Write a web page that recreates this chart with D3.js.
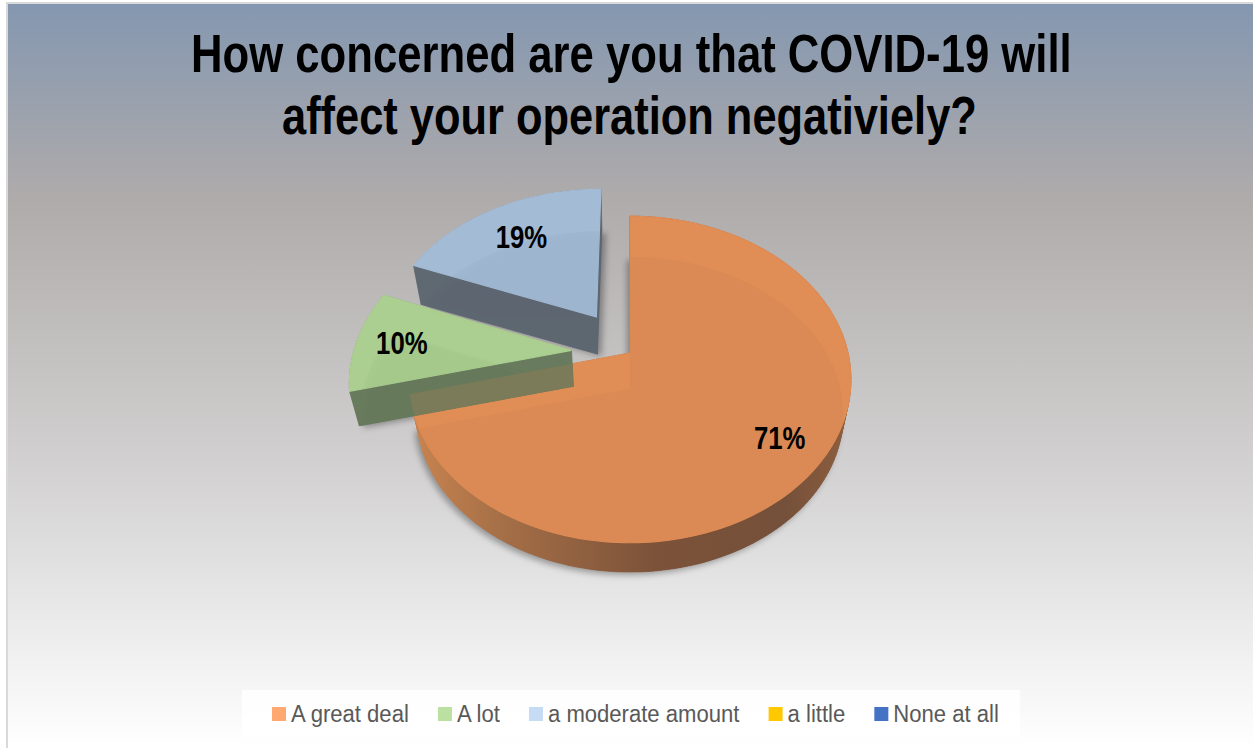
<!DOCTYPE html>
<html><head><meta charset="utf-8">
<script src="https://d3js.org/d3.v7.min.js"></script>
<style>html,body{margin:0;padding:0;background:#fff;overflow:hidden}svg{display:block}text{font-family:"Liberation Sans",Arial,sans-serif}</style>
</head><body><svg id="c" width="1253" height="748"></svg>
<script>
const titleLines = ["How concerned are you that COVID-19 will", "affect your operation negativiely?"];
const categories = ["A great deal", "A lot", "a moderate amount", "a little", "None at all"];
const shares = [71, 10, 19, 0, 0];
const legendColors = ["#FFA971", "#BCE0A2", "#C5DCF4", "#FFC800", "#4472C4"];
const topColors = ["#E08D56", "#ABD08F", "#A4BCD8", "#FFC000", "#4472C4"];
const wallColors = ["url(#wallO)", "#66795A", "#5C6670", "#A08000", "#2F4F88"];
const explode = [0, 0.27, 0.285, 0.27, 0.27];
const labelRadius = [0.8, 0.79, 0.72, 0.77, 0.77];

const svg = d3.select("#c");
const defs = svg.append("defs");

const bg = defs.append("linearGradient").attr("id", "bg").attr("x1", 0).attr("x2", 0).attr("y1", 0).attr("y2", 1);
[[0, "#8497B0"], [0.26, "#AFABAB"], [0.6, "#D0CECE"], [0.85, "#EDEDED"], [1, "#FFFFFF"]]
  .forEach(s => bg.append("stop").attr("offset", s[0]).attr("stop-color", s[1]));
const wo = defs.append("linearGradient").attr("id", "wallO").attr("gradientUnits", "userSpaceOnUse")
  .attr("x1", 415).attr("x2", 850).attr("y1", 0).attr("y2", 0);
[[0, "#C8834F"], [0.2, "#A56F47"], [0.55, "#7C5239"], [0.85, "#75503A"], [1, "#8E5F3E"]]
  .forEach(s => wo.append("stop").attr("offset", s[0]).attr("stop-color", s[1]));
defs.append("filter").attr("id", "blur").attr("x", "-20%").attr("y", "-20%").attr("width", "140%").attr("height", "140%")
  .append("feGaussianBlur").attr("stdDeviation", 3);

svg.append("rect").attr("x", 6).attr("y", 2).attr("width", 1247).attr("height", 746).attr("fill", "#D9D9D9");
svg.append("rect").attr("x", 8).attr("y", 4).attr("width", 1245).attr("height", 744).attr("fill", "url(#bg)");

// Perspective projection of the pie's plane
const P = {x0: 630, y0: 353, A: 218, B: 159, k: 0.162, drop: 36, shrink: 0.965};
function proj(u, v, low) {
  const w = 1 + P.k * v;
  let x = P.x0 + P.A * u / w, y = P.y0 - P.B * v / w;
  if (low) { x = P.x0 + (x - P.x0) * P.shrink; y = P.y0 + (y - P.y0) * P.shrink + P.drop; }
  return [x, y];
}
const arcs = d3.pie().sort(null).value(d => d)(shares);
const line = d3.line();

function outline(a, low) {
  const mid = (a.startAngle + a.endAngle) / 2, d = explode[a.index];
  const ox = d * Math.sin(mid), oy = d * Math.cos(mid);
  const n = Math.max(2, Math.ceil((a.endAngle - a.startAngle) * 40));
  const pts = [proj(ox, oy, low)];
  d3.range(n + 1).forEach(i => {
    const t = a.startAngle + (a.endAngle - a.startAngle) * i / n;
    pts.push(proj(ox + Math.sin(t), oy + Math.cos(t), low));
  });
  return pts;
}
const visible = arcs.filter(a => a.value > 0);
const order = [0, 2, 1].map(i => arcs[i]);

// soft shadows
const shadows = svg.append("g").attr("filter", "url(#blur)");
visible.forEach(a => {
  shadows.append("path").attr("d", line(outline(a, true)) + "Z")
    .attr("transform", a.index === 0 ? "translate(-3,3)" : "translate(4,2)")
    .attr("fill", "#000").attr("opacity", 0.32);
});

order.forEach(a => {
  const top = outline(a, false), low = outline(a, true);
  const g = svg.append("g").attr("opacity", a.index === 0 ? 1 : 0.96);
  const wall = g.append("g");
  wall.append("path").attr("d", line(low) + "Z").attr("fill", wallColors[a.index]);
  top.forEach((p, i) => {
    const j = (i + 1) % top.length;
    wall.append("path").attr("d", line([p, top[j], low[j], low[i]]) + "Z")
      .attr("fill", wallColors[a.index]).attr("stroke", wallColors[a.index]).attr("stroke-width", 0.5);
  });
  g.append("path").attr("d", line(top) + "Z").attr("fill", topColors[a.index])
    .attr("stroke", topColors[a.index]).attr("stroke-width", 1.2);
  const cid = "clip" + a.index;
  defs.append("clipPath").attr("id", cid).append("path").attr("d", line(top) + "Z");
  g.append("path").attr("d", line(low) + "Z").attr("clip-path", `url(#${cid})`)
    .attr("fill", "#3A3A4A").attr("opacity", 0.03);
});

// orange face showing through the exploded green wall
const orangeTop = outline(arcs[0], false), greenLow = outline(arcs[1], true), greenTop = outline(arcs[1], false);
defs.append("clipPath").attr("id", "clipO").append("path").attr("d", line(orangeTop) + "Z");
svg.append("path").attr("d", line([greenTop[0], greenTop[1], greenLow[1], greenLow[0]]) + "Z")
  .attr("clip-path", "url(#clipO)").attr("fill", "#E5915A").attr("opacity", 0.14);

// data labels
visible.forEach(a => {
  const mid = (a.startAngle + a.endAngle) / 2, t = explode[a.index] + labelRadius[a.index];
  const [x, y] = proj(t * Math.sin(mid), t * Math.cos(mid), false);
  const lab = svg.append("text").attr("text-anchor", "middle").attr("font-weight", "bold").attr("font-size", 31)
    .attr("fill", "#000").text(a.value + "%");
  lab.attr("transform", `translate(${x},${y + 11}) scale(0.83,1)`);
});

// title
const titleBoxes = [[191, 1072, 72], [282, 977, 134]];
titleLines.forEach((s, i) => {
  const b = titleBoxes[i];
  const t = svg.append("text").attr("font-weight", "bold").attr("font-size", 53).attr("fill", "#000").text(s);
  const w = t.node().getComputedTextLength();
  t.attr("transform", `translate(${b[0]},${b[2]}) scale(${(b[1] - b[0]) / w},1)`);
});

// legend
svg.append("rect").attr("x", 242).attr("y", 690).attr("width", 778).attr("height", 47).attr("fill", "#FFFFFF").attr("opacity", 0.85);
const lg = svg.append("g");
const items = categories.map(c => lg.append("text").attr("font-size", 24).attr("fill", "#595959").text(c));
const widths = items.map(t => t.node().getComputedTextLength());
const swatch = 14, swGap = 5, itemGap = 29, lx0 = 272, lx1 = 999;
const f = (lx1 - lx0 - categories.length * (swatch + swGap) - (categories.length - 1) * itemGap) / d3.sum(widths);
let cx = lx0;
items.forEach((t, i) => {
  lg.append("rect").attr("x", cx).attr("y", 707).attr("width", swatch).attr("height", swatch)
    .attr("fill", legendColors[i]);
  t.attr("transform", `translate(${cx + swatch + swGap},722) scale(${f},1)`);
  cx += swatch + swGap + widths[i] * f + itemGap;
});
</script></body></html>
